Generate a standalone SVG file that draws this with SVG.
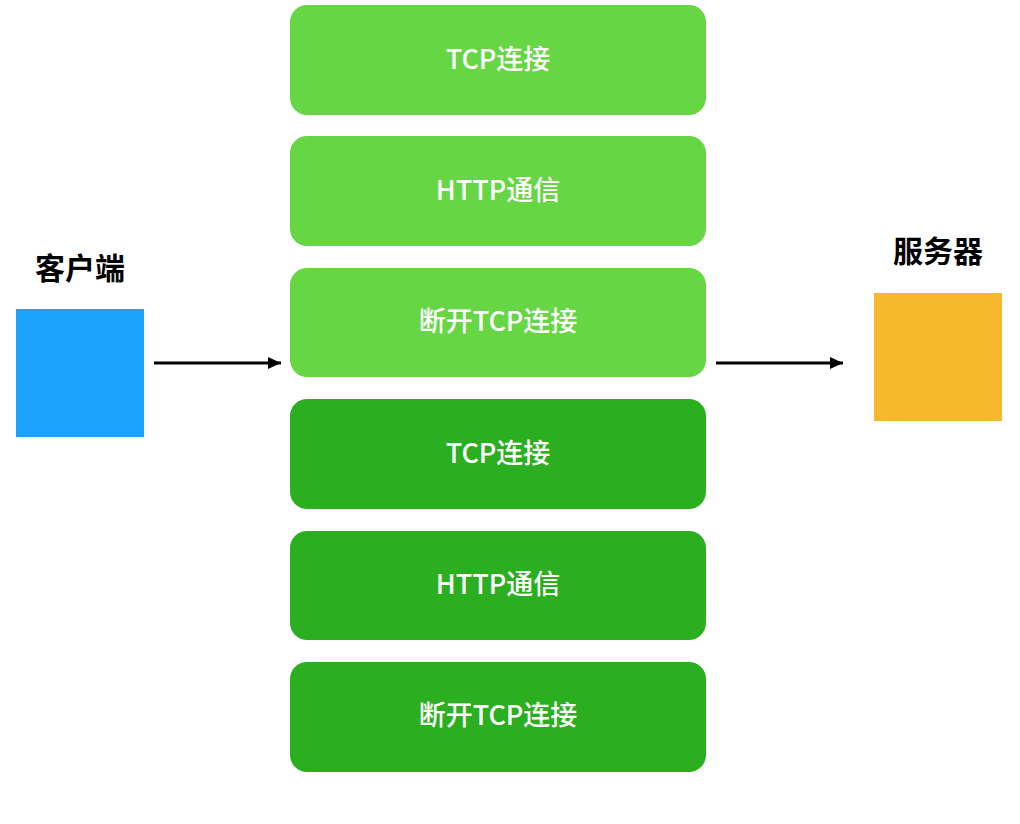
<svg xmlns="http://www.w3.org/2000/svg" width="1020" height="824" viewBox="0 0 1020 824">
<defs>
<style>
.box{stroke:none}
.l{fill:#66d645}
.d{fill:#2baf20}
.t{font-family:"Noto Sans CJK SC","Liberation Sans",sans-serif;font-size:27px;font-weight:500;fill:#ffffff;text-anchor:middle;dominant-baseline:central}
.h{font-family:"Noto Sans CJK SC","Liberation Sans",sans-serif;font-size:30px;font-weight:bold;fill:#000000;text-anchor:middle}
.c{stroke:#000;stroke-width:3;fill:none}
</style>
<marker id="ah" markerWidth="13" markerHeight="12" refX="13" refY="6" orient="auto" markerUnits="userSpaceOnUse">
<path d="M0,0 L13,6 L0,12 Z" fill="#000"/>
</marker>
</defs>
<rect width="1020" height="824" fill="#ffffff"/>
<g id="client">
<text class="h" x="80" y="279">客户端</text>
<rect x="16" y="309" width="128" height="128" fill="#1ca1fe"/>
</g>
<g id="server">
<text class="h" x="938" y="262">服务器</text>
<rect x="874" y="293" width="128" height="128" fill="#f7b82c"/>
</g>
<g id="n1"><rect class="box l" x="290" y="5" width="416" height="110" rx="17"/><text class="t" x="498" y="57">TCP连接</text></g>
<g id="n2"><rect class="box l" x="290" y="136" width="416" height="110" rx="17"/><text class="t" x="498" y="188">HTTP通信</text></g>
<g id="n3"><rect class="box l" x="290" y="268" width="416" height="109" rx="17"/><text class="t" x="498" y="319">断开TCP连接</text></g>
<g id="n4"><rect class="box d" x="290" y="399" width="416" height="110" rx="17"/><text class="t" x="498" y="451">TCP连接</text></g>
<g id="n5"><rect class="box d" x="290" y="531" width="416" height="109" rx="17"/><text class="t" x="498" y="582">HTTP通信</text></g>
<g id="n6"><rect class="box d" x="290" y="662" width="416" height="110" rx="17"/><text class="t" x="498" y="713">断开TCP连接</text></g>
<g id="connectors">
<line class="c" x1="154" y1="363" x2="281" y2="363" marker-end="url(#ah)"/>
<line class="c" x1="716" y1="363" x2="843" y2="363" marker-end="url(#ah)"/>
</g>
</svg>
